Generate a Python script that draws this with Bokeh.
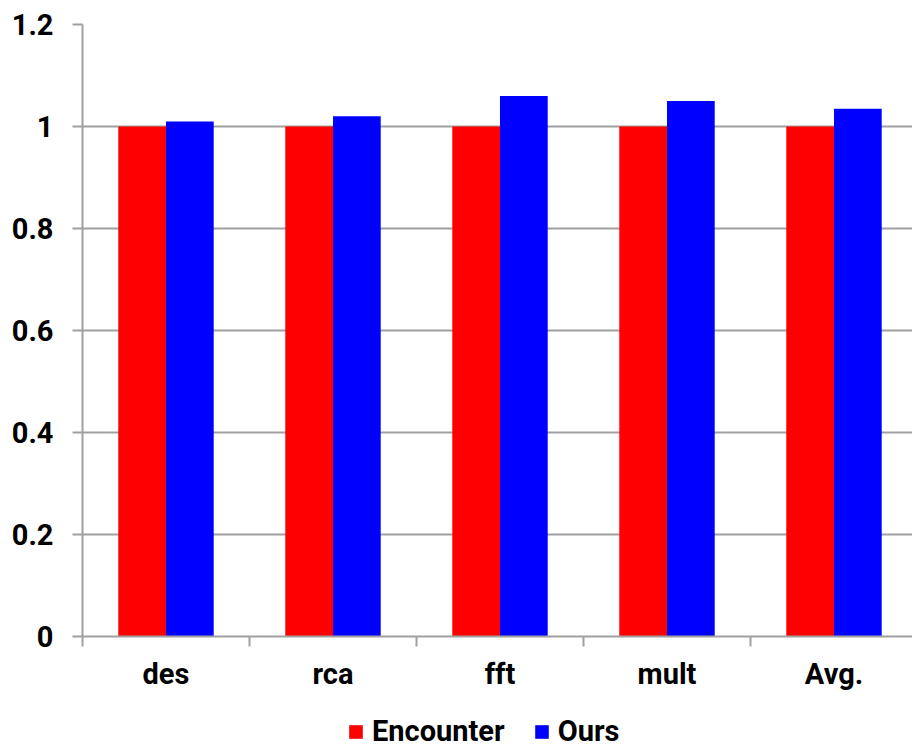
from bokeh.plotting import figure
from bokeh.layouts import column
from bokeh.models import FixedTicker, Legend, LegendItem, Range1d, ColumnDataSource
from bokeh.embed import file_html
from bokeh.resources import INLINE

categories = ["des", "rca", "fft", "mult", "Avg."]
encounter = [1.0, 1.0, 1.0, 1.0, 1.0]
ours = [1.01, 1.02, 1.06, 1.05, 1.035]
y_ticks = [0, 0.2, 0.4, 0.6, 0.8, 1.0, 1.2]
y_tick_labels = ["0", "0.2", "0.4", "0.6", "0.8", "1", "1.2"]
series_names = ["Encounter", "Ours"]
series_colors = ["#FF0000", "#0000FF"]

FONT = "Roboto"
FS = "29px"

n = len(categories)
bar_w = 1 / 3.5
centers = [i + 0.5 for i in range(n)]
x_enc = [c - bar_w / 2 for c in centers]
x_ours = [c + bar_w / 2 for c in centers]

frame_w = 830
px_per_cat = 167
p = figure(
    width=912, height=700,
    x_range=Range1d(0, frame_w / px_per_cat), y_range=Range1d(0, 1.2),
    output_backend="svg", toolbar_location=None,
    min_border_left=82, min_border_right=0, min_border_top=24, min_border_bottom=64,
)
p.outline_line_color = None

src_e = ColumnDataSource(dict(x=x_enc, top=encounter))
src_o = ColumnDataSource(dict(x=x_ours, top=ours))
r1 = p.vbar(x="x", top="top", width=bar_w, source=src_e, fill_color=series_colors[0], line_color=None)
r2 = p.vbar(x="x", top="top", width=bar_w, source=src_o, fill_color=series_colors[1], line_color=None)

grid_col = "#A0A0A0"
p.xgrid.visible = False
p.ygrid.grid_line_color = grid_col
p.ygrid.grid_line_width = 2
p.ygrid.ticker = FixedTicker(ticks=y_ticks)

ya = p.yaxis[0]
ya.ticker = FixedTicker(ticks=y_ticks)
ya.major_label_overrides = {t: l for t, l in zip(y_ticks, y_tick_labels)}
ya.axis_line_color = grid_col
ya.axis_line_width = 2
ya.major_tick_line_color = grid_col
ya.major_tick_line_width = 2
ya.major_tick_out = 10
ya.major_tick_in = 0
ya.minor_tick_line_color = None
ya.major_label_standoff = 19
ya.major_label_text_font = FONT
ya.major_label_text_font_size = FS
ya.major_label_text_font_style = "bold"
ya.major_label_text_color = "black"

xa = p.xaxis[0]
xa.ticker = FixedTicker(ticks=centers, minor_ticks=list(range(n + 1)))
xa.major_label_overrides = {c: l for c, l in zip(centers, categories)}
xa.axis_line_color = grid_col
xa.axis_line_width = 2
xa.major_tick_line_color = None
xa.major_tick_out = 0
xa.major_tick_in = 0
xa.minor_tick_line_color = grid_col
xa.minor_tick_line_width = 2
xa.minor_tick_out = 10
xa.minor_tick_in = 0
xa.major_label_standoff = 10
xa.major_label_text_font = FONT
xa.major_label_text_font_size = FS
xa.major_label_text_font_style = "bold"
xa.major_label_text_color = "black"

# legend strip below the chart
p2 = figure(
    width=912, height=48, x_range=Range1d(0, frame_w / px_per_cat), y_range=Range1d(10, 11),
    x_axis_type=None, y_axis_type=None, output_backend="svg", toolbar_location=None,
    min_border_left=0, min_border_right=0, min_border_top=0, min_border_bottom=0,
)
p2.outline_line_color = None
p2.grid.visible = False
l1 = p2.vbar(x="x", top="top", width=bar_w, source=src_e, fill_color=series_colors[0], line_color=None)
l2 = p2.vbar(x="x", top="top", width=bar_w, source=src_o, fill_color=series_colors[1], line_color=None)

legend = Legend(
    items=[LegendItem(label=series_names[0], renderers=[l1]),
           LegendItem(label=series_names[1], renderers=[l2])],
    orientation="horizontal", location=(265, 0),
    label_text_font=FONT, label_text_font_size=FS, label_text_font_style="bold",
    label_text_color="black",
    glyph_width=17, glyph_height=17, label_standoff=8, spacing=28,
    border_line_color=None, background_fill_alpha=0, padding=0, margin=0,
)
p2.add_layout(legend, "center")

layout = column(p, p2, spacing=0)
open("out.html", "w").write(file_html(layout, INLINE))
